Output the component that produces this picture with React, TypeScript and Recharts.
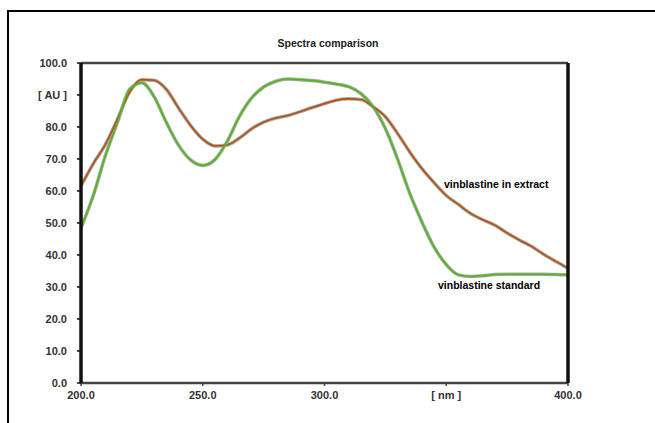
import React from "react";
import { LineChart, Line, XAxis, YAxis } from "recharts";

const nm = [
  200, 205, 210, 215, 220, 225, 230, 235, 240, 245, 250, 255, 260, 265, 270, 275, 280, 285, 290, 295,
  300, 305, 310, 315, 320, 325, 330, 335, 340, 345, 350, 355, 360, 365, 370, 375, 380, 385, 390, 395, 400,
];

const extract = [
  61.6, 68.5, 74.5, 82.5, 91.0, 94.8, 94.6, 91.8, 86.0, 80.5, 76.2, 74.1, 74.4, 76.5, 79.4, 81.5, 82.8,
  83.6, 84.8, 86.1, 87.3, 88.4, 88.8, 88.6, 86.3, 83.2, 78.0, 72.2, 67.0, 62.6, 58.6, 55.8, 53.0, 51.0,
  49.3, 46.9, 44.7, 42.7, 40.2, 38.0, 35.9,
];

const standard = [
  48.4, 58.5, 71.0, 81.5, 91.8, 93.8, 89.5, 81.5, 74.4, 69.7, 68.0, 69.8, 75.4, 83.2, 89.0, 92.5, 94.3,
  95.0, 94.8, 94.5, 94.0, 93.4, 92.6, 90.4, 86.3, 79.5, 70.0, 59.3, 50.3, 42.5, 37.0, 33.8, 33.3, 33.5,
  33.9, 34.0, 34.0, 34.0, 34.0, 33.9, 33.8,
];

const xTicks = [200, 250, 300, 350, 400];
const xTickLabels = ["200.0", "250.0", "300.0", "[ nm ]", "400.0"];
const yTicks = [0, 10, 20, 30, 40, 50, 60, 70, 80, 90, 100];
const yTickLabels = ["0.0", "10.0", "20.0", "30.0", "40.0", "50.0", "60.0", "70.0", "80.0", "[ AU ]", "100.0"];

const title = "Spectra comparison";
const extractLabel = "vinblastine in extract";
const standardLabel = "vinblastine standard";

const data = nm.map((x, i) => ({ nm: x, extract: extract[i], standard: standard[i] }));

const FONT = "'Liberation Sans', Arial, sans-serif";
const tickStyle = { fontSize: 11, fontWeight: 700, fill: "#333", fontFamily: FONT };

const fmtX = (v: number) => {
  const i = xTicks.indexOf(v);
  return i >= 0 ? xTickLabels[i] : String(v);
};
const fmtY = (v: number) => {
  const i = yTicks.indexOf(v);
  return i >= 0 ? yTickLabels[i] : String(v);
};

export default function App() {
  return (
    <div
      style={{
        position: "absolute",
        left: 0,
        top: 0,
        width: 655,
        height: 423,
        overflow: "hidden",
        background: "#fff",
        fontFamily: FONT,
      }}
    >
      <div
        style={{
          position: "absolute",
          left: 7,
          top: 10,
          width: 648,
          height: 413,
          borderTop: "2px solid #000",
          borderLeft: "2px solid #000",
          boxSizing: "border-box",
        }}
      />
      <div
        style={{
          position: "absolute",
          left: 0,
          top: 37,
          width: 656,
          textAlign: "center",
          fontSize: 10.5,
          fontWeight: 700,
          color: "#222",
          lineHeight: "12px",
        }}
      >
        {title}
      </div>
      <div style={{ position: "absolute", left: 0, top: 0 }}>
        <LineChart
          width={655}
          height={423}
          data={data}
          margin={{ top: 33, right: 37, bottom: 10, left: 31 }}
        >
          <XAxis
            dataKey="nm"
            type="number"
            domain={[200, 400]}
            ticks={xTicks}
            interval={0}
            tickFormatter={fmtX}
            tick={tickStyle}
            tickSize={3}
            tickMargin={5}
            height={30}
            axisLine={{ stroke: "#444", strokeWidth: 2.5 }}
            tickLine={{ stroke: "#444", strokeWidth: 1.5 }}
          />
          <XAxis
            xAxisId="top"
            dataKey="nm"
            orientation="top"
            type="number"
            domain={[200, 400]}
            ticks={xTicks}
            interval={0}
            tick={false}
            tickSize={3}
            height={30}
            axisLine={{ stroke: "#444", strokeWidth: 2.5 }}
            tickLine={{ stroke: "#444", strokeWidth: 1.5 }}
          />
          <YAxis
            yAxisId="left"
            type="number"
            domain={[0, 100]}
            ticks={yTicks}
            interval={0}
            tickFormatter={fmtY}
            tick={tickStyle}
            tickSize={4}
            tickMargin={10}
            width={50}
            axisLine={{ stroke: "#111", strokeWidth: 3.5 }}
            tickLine={{ stroke: "#111", strokeWidth: 1.5 }}
          />
          <YAxis
            yAxisId="right"
            orientation="right"
            type="number"
            domain={[0, 100]}
            ticks={yTicks}
            interval={0}
            tickFormatter={fmtY}
            tick={tickStyle}
            tickSize={4}
            tickMargin={10}
            width={50}
            axisLine={{ stroke: "#111", strokeWidth: 3.5 }}
            tickLine={{ stroke: "#111", strokeWidth: 1.5 }}
          />
          <Line
            yAxisId="left"
            type="monotone"
            dataKey="extract"
            stroke="#a8a8a8"
            strokeWidth={3.5}
            dot={false}
            activeDot={false}
            isAnimationActive={false}
          />
          <Line
            yAxisId="left"
            type="monotone"
            dataKey="standard"
            stroke="#a8a8a8"
            strokeWidth={3.5}
            dot={false}
            activeDot={false}
            isAnimationActive={false}
          />
          <Line
            yAxisId="left"
            type="monotone"
            dataKey="extract"
            stroke="#b5520f"
            strokeWidth={1.6}
            dot={false}
            activeDot={false}
            isAnimationActive={false}
          />
          <Line
            yAxisId="left"
            type="monotone"
            dataKey="standard"
            stroke="#4cba14"
            strokeWidth={1.6}
            dot={false}
            activeDot={false}
            isAnimationActive={false}
          />
        </LineChart>
      </div>
      <div
        style={{
          position: "absolute",
          left: 444,
          top: 178,
          fontSize: 10.5,
          fontWeight: 700,
          color: "#000",
          lineHeight: "12px",
          whiteSpace: "nowrap",
        }}
      >
        {extractLabel}
      </div>
      <div
        style={{
          position: "absolute",
          left: 438,
          top: 279,
          fontSize: 10.5,
          fontWeight: 700,
          color: "#000",
          lineHeight: "12px",
          whiteSpace: "nowrap",
        }}
      >
        {standardLabel}
      </div>
    </div>
  );
}
